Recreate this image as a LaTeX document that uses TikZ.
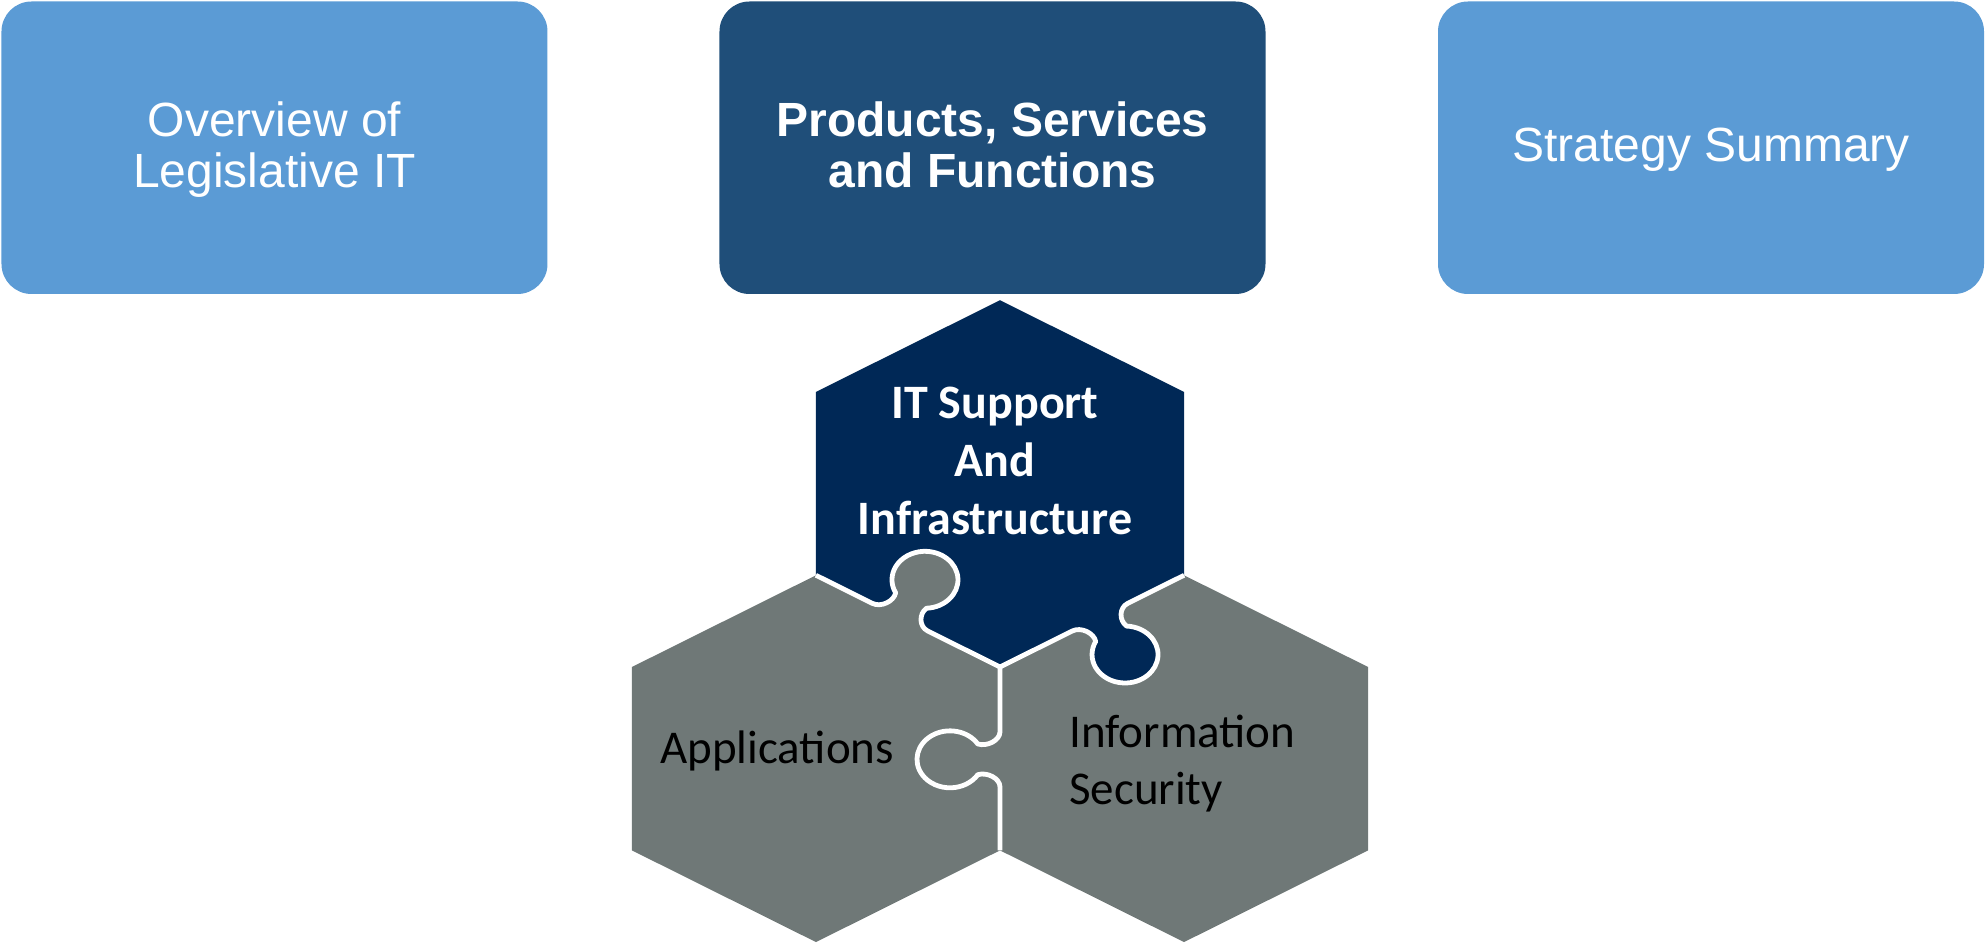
\documentclass[tikz,border=0pt]{standalone}
\usepackage{fontspec}
\newfontfamily\arialf{Liberation Sans}
\newfontfamily\calibf{Carlito}
\usetikzlibrary{calc}
\definecolor{lightblue}{HTML}{5B9BD5}
\definecolor{darkbox}{HTML}{1F4E79}
\definecolor{navyhex}{HTML}{002856}
\definecolor{grayhex}{HTML}{6F7877}
\newcommand\boxtop{\rule{0pt}{40pt}}
\newcommand\boxbotA{\rule[-10.5pt]{0pt}{0pt}}
\newcommand\boxbotB{\rule[-11.5pt]{0pt}{0pt}}
\newcommand\hextop{\rule{0pt}{35pt}}
\tikzset{
  tabbox/.style={rounded corners=30pt, minimum width=546pt, minimum height=292.5pt,
    inner sep=0pt, text=white, align=center, font=\arialf\fontsize{48}{51}\selectfont},
  whiteline/.style={draw=white, line width=4.8pt, line join=round},
  knob/.style n args={3}{insert path={
    -- ($(#1)+({#2+(#3)*180}:32)$)
    .. controls ($(#1)+({#2+(#3)*180}:22)$) and ($(#1)+({#2+(#3)*138.32}:19.29)$) .. ($(#1)+({#2+(#3)*128.73}:28.5)$)
    arc[start angle={#2+(#3)*237.3}, end angle={#2-(#3)*57.3}, radius=33]
    .. controls ($(#1)+({#2+(#3)*41.68}:19.29)$) and ($(#1)+({#2}:22)$) .. ($(#1)+({#2}:32)$)
  }}
}
\begin{document}
\begin{tikzpicture}
\useasboundingbox (-1000pt,-277pt) rectangle (985pt,667pt);
% top boxes
\node[tabbox, fill=lightblue] (overview) at (-725.5pt,519.25pt) {\boxtop Overview of\\Legislative IT\boxbotA};
\node[tabbox, fill=darkbox, font=\arialf\bfseries\fontsize{48}{51}\selectfont] (products) at (-7.5pt,519.25pt) {\boxtop Products, Services\\and Functions\boxbotA};
\node[tabbox, fill=lightblue] (strategy) at (711pt,519.25pt) {\boxtop Strategy Summary\boxbotB};
% puzzle hexagons
\begin{scope}[x=1pt, y=0.863pt]
  \coordinate (B) at (0,0);
  \coordinate (T) at (0,425);
  \coordinate (UR) at (184.03,318.75);
  \coordinate (LR) at (184.03,106.25);
  \coordinate (LL) at (-184.03,106.25);
  \coordinate (UL) at (-184.03,318.75);
  \coordinate (SB) at (0,-212.5);
  \coordinate (M1) at (-100.03,57.75);
  \coordinate (M2) at (100.03,57.75);
  \coordinate (M3) at (0,-107);
  % left piece (Applications)
  \fill[grayhex] (B) [knob={M1}{150}{-1}] -- (LL) -- (-368.06,0) -- (-368.06,-212.5) -- (-184.03,-318.75) -- (SB) -- cycle;
  % right piece (Information Security)
  \fill[grayhex] (B) -- (LR) -- (368.06,0) -- (368.06,-212.5) -- (184.03,-318.75) -- (SB) -- cycle;
  % top piece (IT Support)
  \fill[navyhex] (T) -- (UR) -- (LR) [knob={M2}{210}{1}] -- (B) [knob={M1}{150}{-1}] -- (LL) -- (UL) -- cycle;
  % white seams
  \draw[whiteline] (LR) [knob={M2}{210}{1}] -- (B) [knob={M1}{150}{-1}] -- (LL);
  \draw[whiteline] (B) [knob={M3}{270}{-1}] -- (SB);
\end{scope}
% labels
\node[font=\calibf\bfseries\fontsize{48}{58}\selectfont, text=white, align=center, anchor=north, inner sep=0pt] (itsupport) at (-5pt,284pt) {\hextop IT Support\\And\\Infrastructure};
\node[font=\calibf\fontsize{47}{57}\selectfont, text=black, anchor=base west, inner sep=0pt] (apps) at (-340pt,-96pt) {Applications};
\node[font=\calibf\fontsize{47}{57}\selectfont, text=black, align=left, anchor=north west, inner sep=0pt] (infosec) at (69pt,-45pt) {\hextop Information\\Security};
\end{tikzpicture}
\end{document}
